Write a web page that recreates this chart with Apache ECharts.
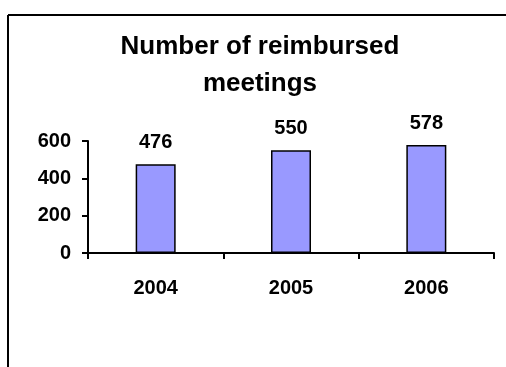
<!DOCTYPE html>
<html>
<head>
<meta charset="utf-8">
<script src="https://cdn.jsdelivr.net/npm/echarts@6/dist/echarts.min.js"></script>
<style>
  html, body { margin: 0; padding: 0; background: #ffffff; }
  #chart { width: 506px; height: 367px; }
</style>
</head>
<body>
<div id="chart"></div>
<script>
// Reimbursed meetings per year
const years = ['2004', '2005', '2006'];
const meetings = [476, 550, 578];
const yTicks = [0, 200, 400, 600];

const FONT = '"Liberation Sans", Arial, sans-serif';

const chart = echarts.init(document.getElementById('chart'), null, { renderer: 'canvas' });

chart.setOption({
  backgroundColor: '#ffffff',
  animation: false,
  title: {
    text: 'Number of reimbursed\nmeetings',
    left: 260,
    top: 28,
    padding: 0,
    textAlign: 'center',
    textStyle: {
      fontFamily: FONT,
      fontWeight: 'bold',
      fontSize: 26,
      lineHeight: 37,
      color: '#000000'
    }
  },
  // outer frame (top and left edges)
  graphic: [
    { type: 'line', shape: { x1: 8, y1: 15, x2: 506, y2: 15 }, style: { stroke: '#000', lineWidth: 2 }, silent: true },
    { type: 'line', shape: { x1: 8, y1: 15, x2: 8, y2: 367 }, style: { stroke: '#000', lineWidth: 2 }, silent: true }
  ],
  grid: { left: 88, right: 12, top: 141, bottom: 114, containLabel: false },
  xAxis: {
    type: 'category',
    data: years,
    boundaryGap: true,
    axisLine: { show: true, lineStyle: { color: '#000', width: 2 } },
    axisTick: { show: true, length: 6, inside: false, lineStyle: { color: '#000', width: 2 } },
    axisLabel: {
      margin: 25,
      fontFamily: FONT,
      fontWeight: 'bold',
      fontSize: 20,
      color: '#000'
    },
    splitLine: { show: false }
  },
  yAxis: {
    type: 'value',
    min: yTicks[0],
    max: yTicks[yTicks.length - 1],
    interval: yTicks[1] - yTicks[0],
    axisLine: { show: true, lineStyle: { color: '#000', width: 2 } },
    axisTick: { show: true, length: 6, inside: false, lineStyle: { color: '#000', width: 2 } },
    axisLabel: {
      margin: 17,
      fontFamily: FONT,
      fontWeight: 'bold',
      fontSize: 20,
      color: '#000'
    },
    splitLine: { show: false }
  },
  series: [{
    type: 'bar',
    data: meetings,
    barWidth: 40,
    itemStyle: { color: '#9999ff', borderColor: '#000', borderWidth: 1.5 },
    label: {
      show: true,
      position: 'top',
      distance: 12,
      fontFamily: FONT,
      fontWeight: 'bold',
      fontSize: 20,
      color: '#000'
    }
  }]
});
</script>
</body>
</html>
